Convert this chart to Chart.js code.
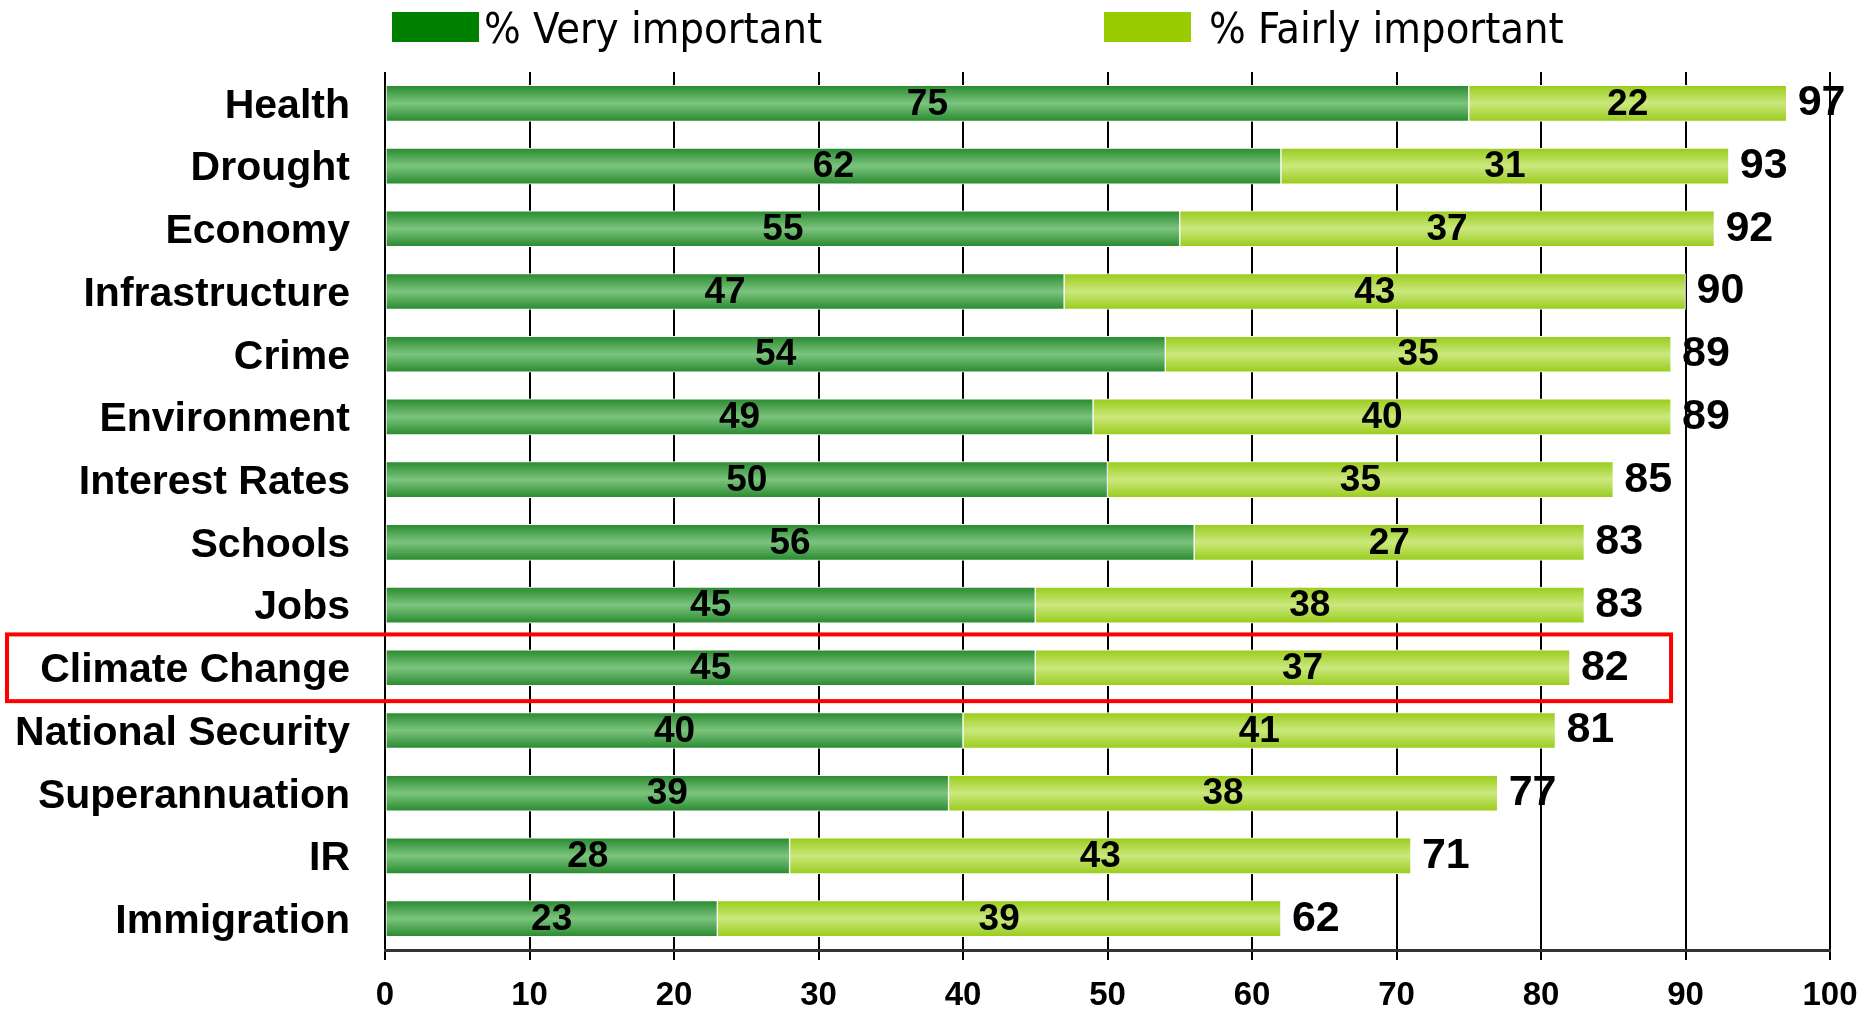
<!DOCTYPE html>
<html>
<head>
<meta charset="utf-8">
<script src="https://cdn.jsdelivr.net/npm/chart.js@4.4.0/dist/chart.umd.min.js"></script>
<style>
    body { margin: 0; background: #fff; }
    #wrap { width: 1874px; height: 1009px; }
</style>
</head>
<body>
<div id="wrap"><canvas id="myChart"></canvas></div>
<script>
// data
var categories = ['Health', 'Drought', 'Economy', 'Infrastructure', 'Crime', 'Environment', 'Interest Rates',
    'Schools', 'Jobs', 'Climate Change', 'National Security', 'Superannuation', 'IR', 'Immigration'];
var veryImportant = [75, 62, 55, 47, 54, 49, 50, 56, 45, 45, 40, 39, 28, 23];
var fairlyImportant = [22, 31, 37, 43, 35, 40, 35, 27, 38, 37, 41, 38, 43, 39];
var totals = [97, 93, 92, 90, 89, 89, 85, 83, 83, 82, 81, 77, 71, 62];
var seriesNames = ['% Very important', '% Fairly important'];
var highlighted = 'Climate Change';
var highlightRight = 89;

var boldFont = '"Liberation Sans", Arial, sans-serif';
var legendFont = '"DejaVu Sans Condensed", "DejaVu Sans", sans-serif';

// vertical gradient per bar: dark edges, light middle
function barGradient(edge, middle) {
    return function (context) {
        var chart = context.chart;
        if (!chart.chartArea || context.type !== 'data') {
            return edge;
        }
        var yc = chart.scales.y.getPixelForValue(context.dataIndex);
        var g = chart.ctx.createLinearGradient(0, yc - 18, 0, yc + 18);
        g.addColorStop(0, edge);
        g.addColorStop(0.5, middle);
        g.addColorStop(1, edge);
        return g;
    };
}

// legend drawn by hand so the two items sit where they do in the original
var legendBoxes = {
    id: 'legendBoxes',
    afterDraw: function (chart) {
        var ctx = chart.ctx;
        var lefts = [392, 1104];
        var gaps = [5, 18];
        var colors = ['#008000', '#99cc00'];
        ctx.save();
        ctx.font = '43px ' + legendFont;
        ctx.textBaseline = 'middle';
        ctx.textAlign = 'left';
        chart.data.datasets.forEach(function (ds, i) {
            ctx.fillStyle = colors[i];
            ctx.fillRect(lefts[i], 12, 87, 30);
            ctx.fillStyle = '#000';
            ctx.fillText(ds.label, lefts[i] + 87 + gaps[i], 32);
        });
        ctx.restore();
    }
};

// values inside the bars and totals after them
var barLabels = {
    id: 'barLabels',
    afterDatasetsDraw: function (chart) {
        var ctx = chart.ctx;
        ctx.save();
        ctx.fillStyle = '#000';
        ctx.textBaseline = 'middle';
        ctx.textAlign = 'center';
        ctx.font = 'bold 37px ' + boldFont;
        chart.data.datasets.forEach(function (ds, di) {
            chart.getDatasetMeta(di).data.forEach(function (bar, i) {
                ctx.fillText(ds.data[i], (bar.x + bar.base) / 2, bar.y + 1);
            });
        });
        ctx.textAlign = 'left';
        ctx.font = 'bold 43px ' + boldFont;
        chart.getDatasetMeta(chart.data.datasets.length - 1).data.forEach(function (bar, i) {
            ctx.fillText(totals[i], bar.x + 11, bar.y);
        });
        ctx.restore();
    }
};

// red frame round the highlighted row
var highlightBox = {
    id: 'highlightBox',
    afterDraw: function (chart) {
        var ctx = chart.ctx;
        var yScale = chart.scales.y;
        var i = categories.indexOf(highlighted);
        var y = yScale.getPixelForValue(i);
        var half = yScale.height / categories.length / 2 + 2;
        var right = chart.scales.x.getPixelForValue(highlightRight);
        ctx.save();
        ctx.strokeStyle = '#ff0000';
        ctx.lineWidth = 4;
        ctx.strokeRect(7, y - half, right - 7, half * 2);
        ctx.restore();
    }
};

var ctx = document.getElementById('myChart').getContext('2d');
var myChart = new Chart(ctx, {
    type: 'bar',
    data: {
        labels: categories,
        datasets: [{
            label: seriesNames[0],
            data: veryImportant,
            backgroundColor: barGradient('#288a2e', '#7cc47e'),
            borderColor: '#ffffff',
            borderWidth: 1,
            borderSkipped: false,
            barThickness: 36
        }, {
            label: seriesNames[1],
            data: fairlyImportant,
            backgroundColor: barGradient('#99cc1a', '#cbe87e'),
            borderColor: '#ffffff',
            borderWidth: 1,
            borderSkipped: false,
            barThickness: 36
        }]
    },
    options: {
        indexAxis: 'y',
        responsive: true,
        maintainAspectRatio: false,
        animation: false,
        layout: {
            padding: { top: 72, right: 44, bottom: 0, left: 0 }
        },
        plugins: {
            legend: { display: false },
            tooltip: { enabled: false }
        },
        scales: {
            x: {
                stacked: true,
                min: 0,
                max: 100,
                afterFit: function (scale) {
                    scale.height = 59;
                },
                ticks: {
                    stepSize: 10,
                    color: '#000',
                    padding: 16,
                    font: { family: boldFont, size: 33, weight: 'bold' }
                },
                grid: {
                    color: '#000',
                    lineWidth: 2,
                    tickLength: 10
                },
                border: {
                    display: true,
                    color: '#333',
                    width: 3
                }
            },
            y: {
                stacked: true,
                afterFit: function (scale) {
                    scale.width = 385;
                },
                ticks: {
                    color: '#000',
                    padding: 27,
                    labelOffset: 3,
                    font: { family: boldFont, size: 41, weight: 'bold' }
                },
                grid: { display: false },
                border: { display: false }
            }
        }
    },
    plugins: [legendBoxes, barLabels, highlightBox]
});
</script>
</body>
</html>
